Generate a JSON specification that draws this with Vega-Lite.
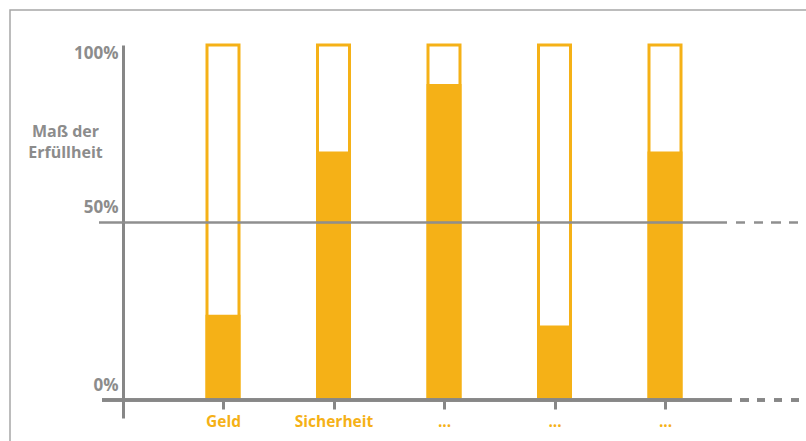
{
  "$schema": "https://vega.github.io/schema/vega-lite/v6.json",
  "width": 796,
  "height": 431,
  "padding": {"left": 10, "top": 10, "right": 0, "bottom": 0},
  "autosize": {"type": "none"},
  "background": "white",
  "config": {
    "view": {"stroke": "#a6a6a6", "strokeWidth": 1.5, "strokeDash": [796, 1227, 431]},
    "axisY": {
      "domainColor": "#878787", "domainWidth": 3, "ticks": false, "tickSize": 0, "grid": false,
      "labelFont": "Open Sans", "labelFontSize": 17, "labelFontWeight": "bold", "labelColor": "#8c8c8c",
      "labelPadding": 5, "labelBaseline": "middle", "labelOverlap": false, "offset": -113,
      "titleFont": "Open Sans", "titleFontSize": 16, "titleFontWeight": "bold", "titleColor": "#8c8c8c",
      "titleAngle": 0, "titleAlign": "center", "titleBaseline": "middle", "titleX": -58, "titleY": 121, "titleLineHeight": 21
    },
    "axisX": {
      "domain": false, "tickColor": "#878787", "tickWidth": 3, "tickSize": 9, "grid": false,
      "labelFont": "Open Sans", "labelFontSize": 15.5, "labelFontWeight": "bold", "labelColor": "#F5B117",
      "labelPadding": 5, "labelAngle": 0, "offset": -41
    }
  },
  "data": {
    "values": [
      {"kategorie": "Geld", "wert": 24},
      {"kategorie": "Sicherheit", "wert": 70},
      {"kategorie": "...1", "wert": 89},
      {"kategorie": "...2", "wert": 21},
      {"kategorie": "...3", "wert": 70}
    ]
  },
  "layer": [
    {
      "mark": {"type": "bar", "fill": "white", "stroke": "#F5B117", "strokeWidth": 3, "width": 32},
      "encoding": {
        "x": {"field": "kategorie", "type": "nominal", "sort": null,
              "scale": {"type": "point", "range": [213, 655], "padding": 0},
              "axis": {"title": null, "labelExpr": "indexof(datum.value, '...') == 0 ? '...' : datum.value"}},
        "y": {"datum": 100, "type": "quantitative",
              "scale": {"domain": [-5.07, 100], "range": [408, 35], "nice": false, "zero": false},
              "axis": {"values": [0, 50, 100], "labelExpr": "datum.value + '%'", "title": ["Maß der", "Erfüllheit"],
                       "labelOffset": {"condition": {"test": "datum.value == 100", "value": 8}, "value": -15}}},
        "y2": {"datum": 0}
      }
    },
    {
      "mark": {"type": "bar", "fill": "#F5B117", "width": 35},
      "encoding": {
        "x": {"field": "kategorie", "type": "nominal", "sort": null,
              "scale": {"type": "point", "range": [213, 655], "padding": 0},
              "axis": {"title": null, "labelExpr": "indexof(datum.value, '...') == 0 ? '...' : datum.value"}},
        "y": {"field": "wert", "type": "quantitative",
              "scale": {"domain": [-5.07, 100], "range": [408, 35], "nice": false, "zero": false},
              "axis": {"values": [0, 50, 100], "labelExpr": "datum.value + '%'", "title": ["Maß der", "Erfüllheit"],
                       "labelOffset": {"condition": {"test": "datum.value == 100", "value": 8}, "value": -15}}},
        "y2": {"datum": 0}
      }
    },
    {
      "mark": {"type": "rule", "color": "#8f8f8f", "strokeWidth": 1.5, "opacity": 0.9,
               "strokeDash": [0, 8, 9, 8, 10, 8, 9, 9, 9, 9, 628, 200]},
      "encoding": {"y": {"datum": 50, "type": "quantitative"}}
    },
    {
      "mark": {"type": "rule", "color": "#878787", "strokeWidth": 3,
               "strokeDash": [0, 7, 8, 9, 8, 9, 8, 8, 9, 8, 630, 200]},
      "encoding": {"y": {"datum": 0, "type": "quantitative"}}
    }
  ]
}
